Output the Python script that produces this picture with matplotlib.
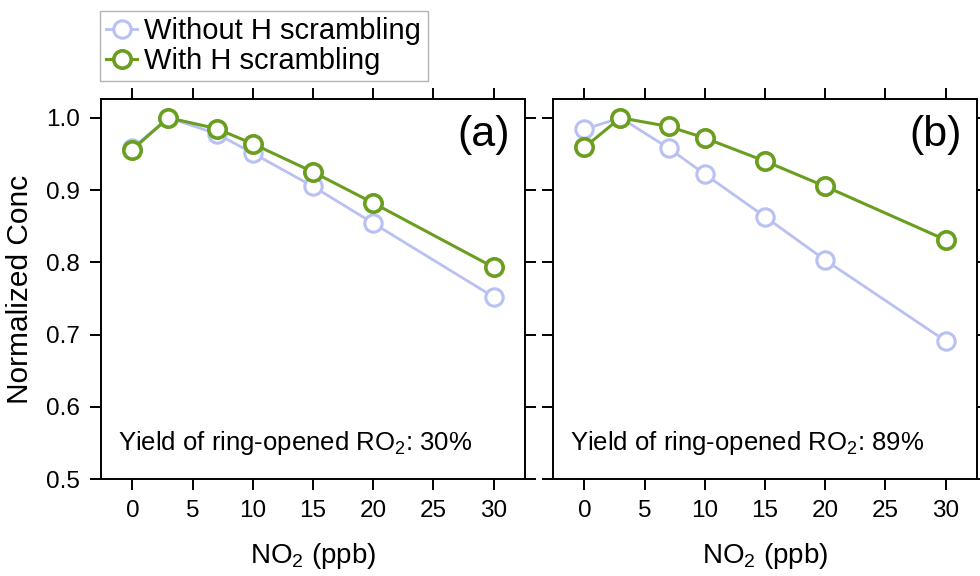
import numpy as np
import matplotlib
matplotlib.use('Agg')
import matplotlib.pyplot as plt

plt.rcParams['font.family'] = ['Liberation Sans', 'DejaVu Sans']
plt.rcParams['mathtext.fontset'] = 'custom'
plt.rcParams['mathtext.rm'] = 'Liberation Sans'

# NO2 levels (ppb)
no2 = [0, 3, 7, 10, 15, 20, 30]

# panel (a): 30% ring-opened RO2
a_without = [0.958, 1.0, 0.978, 0.951, 0.905, 0.854, 0.752]
a_with = [0.956, 1.0, 0.985, 0.964, 0.925, 0.882, 0.793]

# panel (b): 89% ring-opened RO2
b_without = [0.984, 1.0, 0.958, 0.922, 0.863, 0.803, 0.691]
b_with = [0.959, 1.0, 0.988, 0.972, 0.940, 0.905, 0.831]

panel_tags = ['(a)', '(b)']
yield_labels = ['30%', '89%']

blue = '#b9c0f2'
green = '#6a9e1e'

fig = plt.figure(figsize=(9.8, 5.76), dpi=100)
ax1 = fig.add_axes([101 / 980, 1 - 479 / 576, 424 / 980, 380 / 576])
ax2 = fig.add_axes([553 / 980, 1 - 479 / 576, 424 / 980, 380 / 576])

series = [(a_without, a_with), (b_without, b_with)]
for i, ax in enumerate([ax1, ax2]):
    wo, wi = series[i]
    l1, = ax.plot(no2, wo, '-o', color=blue, markerfacecolor='white',
                  markeredgecolor=blue, markersize=12.5, markeredgewidth=2.2,
                  linewidth=2.0, label='Without H scrambling')
    l2, = ax.plot(no2, wi, '-o', color=green, markerfacecolor='white',
                  markeredgecolor=green, markersize=12.5, markeredgewidth=2.6,
                  linewidth=2.2, label='With H scrambling')
    ax.set_xlim(-2.6, 32.6)
    ax.set_ylim(0.5, 1.026)
    ax.set_xticks([0, 5, 10, 15, 20, 25, 30])
    ax.set_yticks([0.5, 0.6, 0.7, 0.8, 0.9, 1.0])
    ax.tick_params(direction='out', length=8, width=1.4, labelsize=17.5,
                   top=True, right=True, pad=7)
    for sp in ax.spines.values():
        sp.set_linewidth(1.4)
    ax.set_xlabel('NO$_2$ (ppb)', fontsize=20, labelpad=14)
    ax.text(0.965, 0.905, panel_tags[i], transform=ax.transAxes, fontsize=31,
            ha='right', va='center')
    ax.text(0.04, 0.095, 'Yield of ring-opened RO$_2$: ' + yield_labels[i],
            transform=ax.transAxes, fontsize=18.5, ha='left', va='center')

ax1.set_yticklabels(['0.5', '0.6', '0.7', '0.8', '0.9', '1.0'])
ax1.set_ylabel('Normalized Conc', fontsize=21.5, labelpad=9)
ax2.set_yticklabels([])

leg = fig.legend(handles=[l1, l2], loc='upper left',
                 bbox_to_anchor=(100 / 980, 1 - 11 / 576), fontsize=21,
                 frameon=True, fancybox=False, edgecolor='#a0a0a0',
                 borderpad=0.22, handlelength=1.05, handletextpad=0.25,
                 labelspacing=0.05, borderaxespad=0)
leg.get_frame().set_linewidth(1.0)

fig.savefig('out.png', dpi=100)
